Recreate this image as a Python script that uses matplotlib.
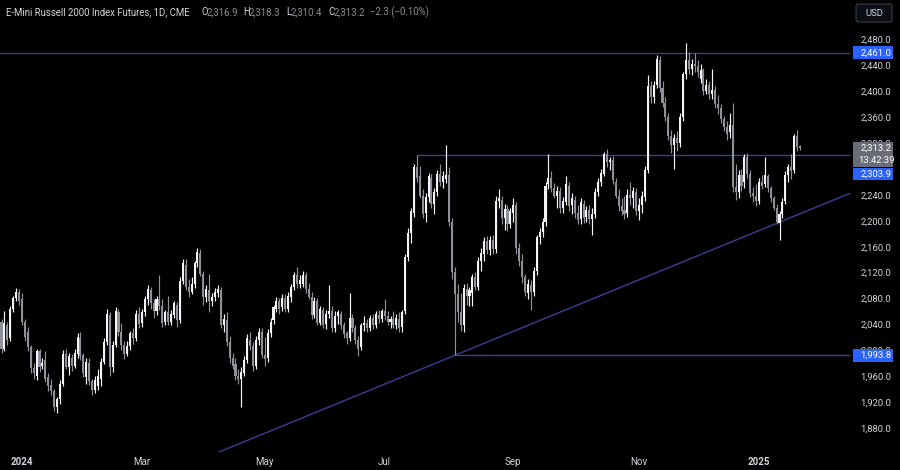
import matplotlib
matplotlib.use("Agg")
import matplotlib.pyplot as plt
from matplotlib.patches import Rectangle, FancyBboxPatch
from matplotlib.transforms import blended_transform_factory
import numpy as np
import pandas as pd

# ---------------- data (E-mini Russell 2000 futures, daily) ----------------
opens = [
    2046, 2003, 2040, 2020, 2066, 2082, 2092, 2080, 2046, 2030,
    2006, 1974, 1962, 2000, 1978, 1986, 1960, 1948, 1938, 1914,
    1926, 1950, 1996, 1976, 1990, 1978, 1996, 2020, 1994, 1960,
    1982, 1954, 1940, 1946,
    1958, 1984, 2014, 2056, 1976, 2010, 2060, 2030, 2010, 1996,
    2008, 2028, 2020, 2058, 2044, 2060, 2080, 2094, 2074, 2062,
    2080, 2070, 2046, 2060, 2046, 2056, 2072, 2048, 2108, 2134,
    2100, 2092, 2104, 2136,
    2152, 2120, 2084, 2094, 2078, 2084, 2090, 2094, 2040, 2048,
    2014, 1990, 1980, 1962, 1958, 1966, 1986, 2018, 2008, 1978,
    2018, 2030, 1994, 1990, 2028, 2048, 2066, 2078, 2068, 2082,
    2066, 2084, 2100, 2118, 2104,
    2104, 2118, 2096, 2084, 2056, 2078, 2044, 2064, 2042, 2058,
    2062, 2036, 2054, 2058, 2040, 2028, 2020, 2052, 2036, 2018,
    2006, 2040, 2044, 2036, 2052, 2040, 2056, 2050, 2062, 2054,
    2046, 2050, 2040, 2050,
    2038, 2062, 2146, 2182, 2214, 2284, 2270, 2240, 2214, 2238,
    2268, 2228, 2246, 2274, 2262, 2266, 2272, 2200, 2122, 2088,
    2060, 2040, 2096, 2086, 2090, 2114, 2100, 2140, 2150, 2170,
    2156, 2172, 2158, 2232,
    2234, 2206, 2220, 2196, 2214, 2226, 2160, 2140, 2114, 2090,
    2102, 2092, 2124, 2176, 2184, 2200, 2258, 2268, 2252, 2240,
    2248, 2222, 2230, 2256, 2226, 2234, 2214, 2204, 2228, 2208,
    2218, 2204, 2212, 2246,
    2262, 2274, 2304, 2292, 2296, 2262, 2240, 2224, 2218, 2214,
    2242, 2236, 2246, 2216, 2226, 2238, 2280, 2410, 2392, 2412,
    2450, 2406, 2384, 2362, 2332, 2318, 2330, 2322, 2362, 2428,
    2450, 2436, 2444, 2440,
    2420, 2434, 2402, 2412, 2398, 2404, 2382, 2376, 2358, 2346,
    2338, 2350, 2254, 2246, 2272, 2262, 2300, 2274, 2244, 2240,
    2232, 2262, 2258, 2270, 2252, 2236, 2222, 2198, 2212, 2232,
    2272, 2284, 2280, 2332, 2316.9,
]
highs = [
    2050, 2062, 2046, 2070, 2086, 2098, 2096, 2090, 2050, 2038,
    2010, 1982, 2004, 2004, 1990, 2000, 1966, 1958, 1942, 1930,
    1955, 2002, 2004, 1998, 1996, 2004, 2028, 2030, 1998, 1990,
    1990, 1958, 1962, 1972,
    1990, 2020, 2066, 2060, 2016, 2068, 2066, 2044, 2016, 2016,
    2032, 2036, 2064, 2068, 2066, 2086, 2102, 2100, 2080, 2086,
    2118, 2080, 2064, 2086, 2064, 2078, 2076, 2114, 2142, 2142,
    2112, 2114, 2140, 2160,
    2158, 2124, 2102, 2120, 2090, 2098, 2102, 2100, 2058, 2060,
    2024, 1998, 1990, 1972, 1976, 1992, 2026, 2030, 2014, 2024,
    2036, 2036, 2022, 2034, 2052, 2072, 2084, 2082, 2088, 2088,
    2092, 2104, 2122, 2130, 2118,
    2124, 2122, 2106, 2092, 2084, 2082, 2070, 2068, 2064, 2102,
    2070, 2062, 2064, 2062, 2046, 2032, 2090, 2058, 2040, 2024,
    2044, 2054, 2050, 2056, 2058, 2062, 2064, 2066, 2080, 2062,
    2054, 2062, 2058, 2060,
    2064, 2150, 2190, 2222, 2290, 2303.9, 2286, 2250, 2244, 2276,
    2274, 2252, 2280, 2290, 2278, 2318, 2284, 2206, 2130, 2104,
    2090, 2104, 2106, 2100, 2120, 2122, 2146, 2160, 2176, 2178,
    2178, 2180, 2240, 2250,
    2240, 2228, 2226, 2222, 2236, 2230, 2168, 2150, 2120, 2112,
    2110, 2130, 2180, 2190, 2206, 2262, 2304, 2278, 2260, 2256,
    2254, 2238, 2270, 2262, 2244, 2240, 2226, 2236, 2234, 2224,
    2226, 2222, 2252, 2268,
    2282, 2308, 2312, 2300, 2302, 2268, 2250, 2236, 2240, 2250,
    2262, 2254, 2252, 2236, 2248, 2286, 2426, 2418, 2418, 2458,
    2456, 2418, 2392, 2368, 2342, 2336, 2340, 2368, 2432, 2476,
    2462, 2452, 2460, 2450,
    2444, 2438, 2420, 2418, 2436, 2410, 2396, 2382, 2364, 2356,
    2368, 2384, 2290, 2280, 2282, 2304, 2306, 2280, 2254, 2258,
    2268, 2272, 2300, 2274, 2256, 2240, 2228, 2216, 2236, 2278,
    2290, 2304, 2336, 2341, 2318.3,
]
lows = [
    1998, 2000, 2010, 2016, 2060, 2078, 2072, 2040, 2016, 2000,
    1966, 1958, 1956, 1968, 1972, 1952, 1938, 1932, 1908, 1905,
    1918, 1946, 1972, 1964, 1970, 1974, 1990, 1986, 1960, 1950,
    1948, 1932, 1936, 1940,
    1946, 1980, 2010, 1962, 1968, 2006, 2024, 2002, 1988, 1992,
    2002, 2012, 2016, 2036, 2038, 2054, 2072, 2066, 2052, 2056,
    2064, 2038, 2040, 2040, 2040, 2052, 2038, 2044, 2104, 2094,
    2084, 2088, 2098, 2130,
    2116, 2072, 2076, 2060, 2070, 2078, 2084, 2036, 2030, 2008,
    1982, 1972, 1956, 1950, 1914, 1962, 1982, 2002, 1970, 1972,
    2010, 1990, 1978, 1984, 2022, 2042, 2060, 2058, 2062, 2060,
    2060, 2076, 2094, 2098, 2098,
    2100, 2090, 2080, 2050, 2052, 2040, 2040, 2036, 2034, 2052,
    2030, 2030, 2042, 2034, 2020, 2012, 2016, 2030, 2012, 1992,
    2002, 2032, 2030, 2032, 2034, 2036, 2044, 2046, 2048, 2040,
    2036, 2036, 2034, 2030,
    2030, 2058, 2140, 2168, 2208, 2262, 2236, 2206, 2200, 2230,
    2222, 2212, 2240, 2256, 2252, 2260, 2194, 2112, 1993.8, 2046,
    2032, 2030, 2072, 2070, 2070, 2094, 2094, 2124, 2140, 2150,
    2148, 2150, 2152, 2222,
    2196, 2188, 2186, 2190, 2200, 2150, 2132, 2106, 2086, 2080,
    2064, 2086, 2118, 2166, 2176, 2194, 2250, 2246, 2236, 2222,
    2214, 2214, 2226, 2216, 2212, 2206, 2196, 2196, 2198, 2200,
    2196, 2180, 2206, 2240,
    2256, 2270, 2284, 2280, 2258, 2236, 2216, 2210, 2204, 2208,
    2226, 2222, 2210, 2202, 2214, 2232, 2276, 2384, 2384, 2406,
    2400, 2378, 2356, 2326, 2306, 2282, 2310, 2316, 2356, 2420,
    2428, 2426, 2432, 2424,
    2414, 2396, 2398, 2390, 2390, 2376, 2366, 2352, 2340, 2326,
    2330, 2246, 2234, 2236, 2248, 2252, 2268, 2238, 2230, 2224,
    2228, 2250, 2254, 2246, 2230, 2218, 2196, 2172, 2206, 2228,
    2262, 2266, 2276, 2310, 2310.4,
]
closes = [
    2003, 2044, 2018, 2066, 2082, 2092, 2078, 2046, 2022, 2006,
    1974, 1966, 2000, 1976, 1982, 1958, 1946, 1938, 1914, 1926,
    1950, 1996, 1976, 1992, 1978, 1998, 2022, 1992, 1966, 1983,
    1954, 1940, 1956, 1962,
    1984, 2014, 2058, 1976, 2010, 2062, 2030, 2010, 1996, 2008,
    2028, 2020, 2058, 2042, 2060, 2080, 2096, 2074, 2062, 2080,
    2070, 2044, 2060, 2046, 2058, 2074, 2048, 2108, 2136, 2100,
    2092, 2104, 2136, 2154,
    2120, 2084, 2096, 2078, 2084, 2092, 2096, 2040, 2050, 2014,
    1990, 1978, 1962, 1958, 1968, 1986, 2020, 2008, 1978, 2018,
    2030, 1994, 1988, 2028, 2046, 2068, 2078, 2066, 2082, 2066,
    2086, 2100, 2118, 2104, 2110,
    2118, 2096, 2084, 2056, 2078, 2044, 2066, 2040, 2058, 2062,
    2036, 2054, 2060, 2040, 2026, 2020, 2052, 2036, 2018, 2004,
    2040, 2044, 2036, 2052, 2040, 2058, 2050, 2062, 2054, 2046,
    2050, 2040, 2052, 2036,
    2060, 2145, 2182, 2216, 2284, 2268, 2240, 2212, 2238, 2270,
    2228, 2246, 2274, 2262, 2270, 2272, 2200, 2122, 2088, 2060,
    2040, 2098, 2086, 2094, 2114, 2100, 2140, 2152, 2170, 2156,
    2172, 2158, 2232, 2236,
    2206, 2220, 2196, 2216, 2226, 2160, 2140, 2114, 2092, 2104,
    2092, 2124, 2176, 2184, 2200, 2256, 2268, 2252, 2240, 2248,
    2222, 2232, 2258, 2224, 2236, 2214, 2202, 2230, 2206, 2218,
    2204, 2212, 2246, 2262,
    2276, 2304, 2292, 2296, 2264, 2240, 2224, 2216, 2212, 2242,
    2236, 2248, 2216, 2226, 2240, 2280, 2410, 2392, 2412, 2452,
    2406, 2384, 2362, 2332, 2318, 2330, 2322, 2362, 2428, 2450,
    2436, 2444, 2440, 2432,
    2434, 2402, 2412, 2398, 2404, 2382, 2376, 2358, 2346, 2336,
    2350, 2254, 2246, 2272, 2256, 2300, 2274, 2244, 2240, 2232,
    2262, 2256, 2272, 2252, 2236, 2222, 2200, 2212, 2230, 2272,
    2284, 2278, 2332, 2315.5, 2313.2,
]

first_session = "2023-12-20"
market_holidays = ["2023-12-25", "2024-01-01", "2024-01-15", "2024-02-19",
                   "2024-03-29", "2024-05-27", "2024-06-19", "2024-07-04",
                   "2024-09-02", "2024-11-28", "2024-12-25", "2025-01-01",
                   "2025-01-20"]
label_months = [1, 3, 5, 7, 9, 11]

# drawn levels
resistance_top = 2461.0
resistance_mid = 2303.9
support_low = 1993.8
trend_slope = 1.852      # points per session
y_ticks = list(range(1880, 2481, 40))
hidden_ticks = [2280]    # fully covered by the price boxes
last_price = 2313.2
countdown = "13:42:39"

header_title = "E-Mini Russell 2000 Index Futures, 1D, CME"
header_ohlc = [("O", "2,316.9"), ("H", "2,318.3"), ("L", "2,310.4"), ("C", "2,313.2")]
header_change = "\u22122.3 (\u22120.10%)"

# ---------------- figure ----------------
assert len(opens) == len(highs) == len(lows) == len(closes)
n = len(closes)
dates = pd.bdate_range(first_session, periods=n, freq="C", holidays=market_holidays)

W, H = 900, 470
fig = plt.figure(figsize=(W / 100, H / 100), dpi=100, facecolor="black")
ax = fig.add_axes([0, (H - 452) / H, 850 / W, 452 / H])
ax.set_facecolor("black")
for s in ax.spines.values():
    s.set_visible(False)
ax.set_xticks([])
ax.set_yticks([])
ax.set_xlim(-0.513, 290.1)
ax.set_ylim(1844.5, 2542.5)

FONT = "Roboto"
TXT = "#d1d4dc"
UP = "#f4f5f7"
DOWN = "#8e919a"
LINE = "#3b3f94"

o = np.array(opens, float); h = np.array(highs, float)
l = np.array(lows, float); c = np.array(closes, float)
x = np.arange(n)
up = c >= o
cols = np.where(up, UP, DOWN)

# levels and trendline (behind candles)
ax.axhline(resistance_top, color=LINE, lw=1.0, zorder=1)
i_mid = int(np.argmin(np.abs(h - resistance_mid)))
ax.hlines(resistance_mid, i_mid, 400, color=LINE, lw=1.0, zorder=1)
i_low = int(np.argmin(np.abs(l - support_low)))
ax.hlines(support_low, i_low, 400, color=LINE, lw=1.0, zorder=1)
ax.axline((i_low, support_low), slope=trend_slope, color=LINE, lw=1.0, zorder=1)

ax.vlines(x, l, h, colors=cols, linewidth=0.85, zorder=2)
bw = 0.7
for i in range(n):
    lo = min(o[i], c[i]); hi = max(o[i], c[i])
    ax.add_patch(Rectangle((x[i] - bw / 2, lo), bw, max(hi - lo, 1.2),
                           facecolor=cols[i], edgecolor="none", zorder=3))

# ---------------- right price scale ----------------
def ypix(p):
    return ax.transData.transform((0, p))[1]   # from bottom, pixels

xc = 876 / W
for t in y_ticks:
    if t in hidden_ticks:
        continue
    fig.text(xc, ypix(t) / H, f"{t:,.1f}", ha="center", va="center",
             fontsize=6.8, color=TXT, family=FONT, zorder=4)

def box_label(cy_px, lines, fc, tc="white", hgt=12.6):
    fig.add_artist(Rectangle((853 / W, (cy_px - hgt / 2) / H), 40 / W, hgt / H,
                             transform=fig.transFigure, facecolor=fc,
                             edgecolor="none", zorder=5))
    k = len(lines)
    for j, s in enumerate(lines):
        off = (k - 1) / 2 - j
        fig.text(xc, (cy_px + off * 12) / H, s, ha="center", va="center",
                 fontsize=6.8, color=tc, family=FONT, zorder=6)

box_label(ypix(resistance_top), [f"{resistance_top:,.1f}"], "#2962ff")
gy = ypix(last_price)
box_label(gy - 6, [f"{last_price:,.1f}", countdown], "#6a6d78", hgt=25)
box_label(gy - 6 - 12.5 - 7, [f"{resistance_mid:,.1f}"], "#2962ff")
box_label(ypix(support_low), [f"{support_low:,.1f}"], "#2962ff")

# USD button
fig.add_artist(FancyBboxPatch((856 / W, (H - 22) / H), 36 / W, 18 / H,
                              boxstyle="round,pad=0,rounding_size=0.004",
                              transform=fig.transFigure, facecolor="#0c0e15",
                              edgecolor="#3a3d47", lw=0.8, zorder=5))
fig.text(874 / W, (H - 13) / H, "USD", ha="center", va="center",
         fontsize=6.8, color=TXT, family=FONT, zorder=6)

# ---------------- time scale ----------------
bt = blended_transform_factory(ax.transData, fig.transFigure)
for i in range(1, n):
    if dates[i].month != dates[i - 1].month and dates[i].month in label_months:
        if dates[i].month == 1:
            lab, wt = str(dates[i].year), "bold"
        else:
            lab, wt = dates[i].strftime("%b"), "normal"
        ax.text(i, (H - 462) / H, lab, transform=bt, ha="center", va="center",
                fontsize=7, color=TXT, family=FONT, fontweight=wt, clip_on=False)

# ---------------- header ----------------
hy = (H - 12) / H
fig.text(6 / W, hy, header_title, ha="left", va="center", fontsize=6.9,
         color=TXT, family=FONT)
hx = [(201, 207), (243, 249), (286, 291), (328, 334)]
for (lab, val), (xl, xv) in zip(header_ohlc, hx):
    fig.text(xl / W, hy, lab, ha="left", va="center", fontsize=6.9, color=TXT, family=FONT)
    fig.text(xv / W, hy, val, ha="left", va="center", fontsize=6.9, color="#8b8e97", family=FONT)
fig.text(370 / W, hy, header_change, ha="left", va="center", fontsize=6.9,
         color="#8b8e97", family=FONT)

fig.savefig("out.png", dpi=100, facecolor="black")
